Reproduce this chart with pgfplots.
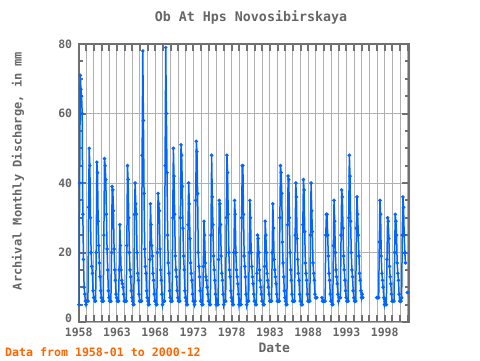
\documentclass[border=0pt]{standalone}
\usepackage{fontspec}
\setmainfont{DejaVu Sans Mono}
\usepackage{pgfplots}
\pgfplotsset{compat=1.18}
\definecolor{axgray}{HTML}{707070}
\definecolor{gridgray}{HTML}{B0B0B0}
\definecolor{txtgray}{HTML}{666666}
\definecolor{ser}{HTML}{0066FF}
\definecolor{note}{HTML}{FF6600}
\begin{document}
\begin{tikzpicture}
\begin{axis}[
  scale only axis, width=330.3pt, height=278pt,
  xmin=1958, xmax=2001.17, ymin=0, ymax=80,
  xtick={1958,...,2001},
  xticklabels={1958,,,,,1963,,,,,1968,,,,,1973,,,,,1978,,,,,1983,,,,,1988,,,,,1993,,,,,1998,,,},
  ytick={20,40,60,80}, minor ytick={0,5,...,80},
  extra y ticks={0},
  extra y tick style={yticklabel style={yshift=4pt}},
  major tick length=7pt, minor tick length=4pt,
  tick align=inside, tick pos=both,
  axis line style={axgray, line width=2pt},
  every tick/.style={axgray, line width=2pt},
  every minor tick/.style={axgray, line width=2pt},
  xmajorgrids, ymajorgrids,
  grid style={gridgray, line width=1pt},
  /pgf/number format/assume math mode=true,
  ticklabel style={font=\bfseries\fontsize{11.5}{12}\selectfont, text=txtgray},
  yticklabel style={xshift=-3pt},
  xticklabel style={yshift=-2pt},
  myser/.style={draw=ser, line width=1.5pt, mark=*, mark size=0.9pt, mark options={draw=ser, fill=ser, solid}},
]
% Segment 1: 1958-01 .. 1989-02
\addplot[myser] table[row sep=\\, x expr={1958+(0.5+\coordindex)/12}, y index=0]{v\\
5\\40\\71\\67\\65\\60\\31\\18\\10\\8\\6\\5\\
6\\6\\6\\33\\50\\45\\30\\20\\16\\14\\9\\7\\
7\\6\\6\\20\\46\\43\\29\\22\\17\\13\\9\\7\\
6\\6\\6\\25\\47\\45\\41\\31\\21\\15\\9\\7\\
6\\6\\6\\20\\39\\38\\32\\21\\15\\12\\8\\7\\
6\\6\\6\\15\\28\\22\\15\\12\\11\\10\\8\\6\\
6\\6\\6\\22\\45\\41\\30\\20\\15\\13\\9\\7\\
6\\5\\5\\31\\40\\34\\31\\20\\14\\12\\8\\6\\
6\\6\\6\\48\\78\\58\\37\\21\\16\\14\\9\\7\\
6\\5\\5\\18\\34\\28\\22\\19\\14\\12\\8\\6\\
6\\5\\5\\20\\37\\34\\32\\21\\15\\12\\8\\5\\
6\\6\\6\\45\\79\\60\\43\\25\\17\\14\\9\\7\\
6\\6\\6\\30\\50\\42\\31\\19\\15\\13\\9\\7\\
6\\6\\6\\30\\51\\48\\39\\27\\19\\15\\9\\7\\
6\\5\\5\\28\\40\\34\\24\\17\\14\\12\\8\\6\\
6\\5\\6\\35\\52\\49\\37\\20\\16\\13\\9\\6\\
6\\5\\5\\16\\29\\25\\17\\13\\12\\10\\8\\6\\
6\\5\\5\\25\\48\\36\\28\\19\\15\\12\\8\\5\\
6\\5\\5\\18\\35\\34\\28\\19\\14\\12\\8\\5\\
6\\6\\6\\30\\48\\43\\31\\20\\15\\13\\9\\7\\
6\\5\\5\\20\\35\\31\\20\\15\\13\\11\\8\\5\\
6\\5\\5\\30\\45\\45\\31\\19\\16\\13\\8\\5\\
6\\6\\6\\20\\35\\30\\20\\16\\13\\11\\8\\6\\
6\\5\\5\\14\\25\\24\\20\\15\\12\\10\\8\\6\\
6\\5\\5\\16\\29\\25\\20\\14\\12\\10\\8\\6\\
6\\6\\6\\20\\34\\27\\18\\15\\13\\11\\8\\6\\
6\\6\\6\\30\\45\\43\\37\\23\\17\\13\\9\\7\\
6\\5\\5\\28\\42\\41\\30\\20\\15\\12\\8\\6\\
6\\6\\6\\25\\40\\36\\24\\18\\14\\12\\8\\6\\
6\\5\\5\\28\\41\\38\\26\\17\\14\\12\\8\\6\\
6\\6\\6\\25\\40\\32\\26\\17\\14\\12\\8\\7\\
7\\7\\
};
% Segment 2: 1989-10 .. 1995-02
\addplot[myser] table[row sep=\\, x expr={1989+(9.5+\coordindex)/12}, y index=0]{v\\
7\\6\\6\\
6\\6\\6\\25\\31\\31\\25\\19\\14\\12\\8\\6\\
6\\5\\5\\22\\35\\29\\20\\15\\13\\11\\8\\6\\
7\\7\\7\\25\\38\\36\\27\\19\\15\\12\\9\\7\\
6\\6\\6\\30\\48\\42\\29\\20\\15\\13\\9\\7\\
6\\6\\6\\27\\36\\31\\25\\19\\14\\12\\9\\7\\
8\\7\\
};
% Segment 3: 1996-12 .. 2000-09
\addplot[myser] table[row sep=\\, x expr={1996+(11.5+\coordindex)/12}, y index=0]{v\\
7\\
7\\7\\7\\23\\35\\31\\19\\14\\12\\10\\7\\5\\
6\\5\\5\\18\\30\\29\\24\\16\\13\\11\\8\\6\\
6\\6\\6\\20\\31\\29\\25\\17\\14\\12\\8\\6\\
6\\6\\7\\25\\36\\33\\25\\20\\17\\
};
% Segment 4: 2000-12
\addplot[myser] coordinates {(2000.958,8.5)};
\end{axis}
\node[font=\bfseries\fontsize{13.3}{14}\selectfont, text=txtgray] at ([shift={(172.3pt,305pt)}]current axis.south west) {Ob At Hps Novosibirskaya};
\node[font=\bfseries\fontsize{13}{14}\selectfont, text=txtgray] at ([shift={(195.6pt,-25.5pt)}]current axis.south west) {Date};
\node[font=\bfseries\fontsize{12}{13}\selectfont, text=txtgray, rotate=90] at ([shift={(-60.7pt,151pt)}]current axis.south west) {Archival Monthly Discharge, in mm};
\node[anchor=west, inner sep=0pt, font=\bfseries\fontsize{11.6}{12}\selectfont, text=note] at ([shift={(-73.7pt,-30pt)}]current axis.south west) {Data from 1958-01 to 2000-12};
\pgfresetboundingbox
\useasboundingbox ([shift={(-78.7pt,-38pt)}]current axis.south west) rectangle ++(480pt,360pt);
\end{tikzpicture}
\end{document}
